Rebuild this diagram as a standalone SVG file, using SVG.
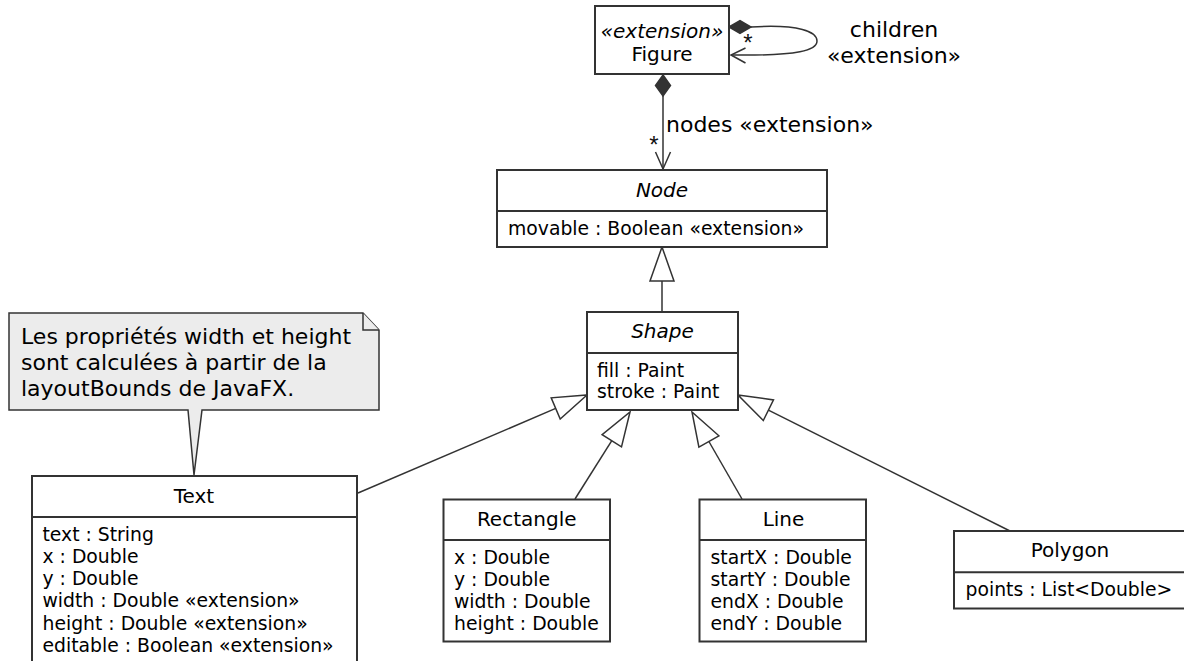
<svg xmlns="http://www.w3.org/2000/svg" width="1184" height="661" viewBox="0 0 1184 661">
  <style>
    text { font-family: "DejaVu Sans", "Liberation Sans", sans-serif; fill: #000; }
    .box { fill: #fff; stroke: #333; stroke-width: 2; }
    .sep { stroke: #333; stroke-width: 2; fill: none; }
    .title { font-size: 20px; text-anchor: middle; }
    .abstract { font-style: italic; }
    .attr { font-size: 18.8px; }
    .lbl { font-size: 22px; }
    .mult { font-size: 24px; text-anchor: middle; font-family: "Liberation Sans", sans-serif; fill: #111; }
    .edge { stroke: #333; stroke-width: 1.5; fill: none; }
    .diamond { fill: #333; stroke: #333; stroke-width: 1.5; }
    .gen { fill: #fff; stroke: #333; stroke-width: 1.5; }
    .note { fill: #ececec; stroke: #333; stroke-width: 1.5; }
  </style>

  <!-- Associations and generalizations -->
  <g id="connectors">
    <!-- Figure children self composition -->
    <path class="edge" d="M751,27 C800,24 817,32 817,41 C817,50 800,56 731,55"/>
    <polygon class="diamond" points="729,27 740,20.5 751,27 740,33.5"/>
    <polyline class="edge" points="745.5,48 731,55 745.5,63"/>
    <text class="mult" x="748" y="51">*</text>
    <text class="lbl" x="894" y="37" text-anchor="middle">children</text>
    <text class="lbl" x="894" y="63" text-anchor="middle">«extension»</text>

    <!-- Figure nodes composition -->
    <polygon class="diamond" points="663,75 670.5,85.5 663,96 655.5,85.5"/>
    <line class="edge" x1="663" y1="96" x2="663" y2="169"/>
    <polyline class="edge" points="655.5,152 663,169 670.5,152"/>
    <text class="mult" x="654" y="153">*</text>
    <text class="lbl" x="666" y="132">nodes «extension»</text>

    <!-- Shape extends Node -->
    <line class="edge" x1="662" y1="281" x2="662" y2="312"/>
    <polygon class="gen" points="662,247 674,281 650,281"/>

    <!-- Text extends Shape -->
    <line class="edge" x1="358" y1="493" x2="555.7" y2="408.4"/>
    <polygon class="gen" points="587,395 560.2,419 551.2,397.8"/>

    <!-- Rectangle extends Shape -->
    <line class="edge" x1="575" y1="499" x2="611.8" y2="440.7"/>
    <polygon class="gen" points="630,412 621.5,446.9 602.1,434.6"/>

    <!-- Line extends Shape -->
    <line class="edge" x1="742" y1="499" x2="708.9" y2="441.5"/>
    <polygon class="gen" points="692,412 718.9,435.8 698.9,447.2"/>

    <!-- Polygon extends Shape -->
    <line class="edge" x1="1010" y1="531" x2="768.4" y2="410.2"/>
    <polygon class="gen" points="738,395 773.5,399.9 763.3,420.5"/>
  </g>

  <g id="figure">
    <rect class="box" x="595" y="6" width="134" height="68"/>
    <text class="title abstract" x="662" y="38">«extension»</text>
    <text class="title" x="662" y="61">Figure</text>
  </g>

  <g id="node">
    <rect class="box" x="497" y="170" width="330" height="77"/>
    <line class="sep" x1="497" y1="211" x2="827" y2="211"/>
    <text class="title abstract" x="662" y="196.7">Node</text>
    <text class="attr" x="508" y="235">movable : Boolean «extension»</text>
  </g>

  <g id="shape">
    <rect class="box" x="587" y="312" width="151" height="98"/>
    <line class="sep" x1="587" y1="353" x2="738" y2="353"/>
    <text class="title abstract" x="662.5" y="338.4">Shape</text>
    <text class="attr" x="597" y="376.7">fill : Paint</text>
    <text class="attr" x="597" y="398.3">stroke : Paint</text>
  </g>

  <g id="note">
    <path class="note" d="M9,313 L363,313 L379,330 L379,410 L202,410 L194,475 L188,410 L9,410 Z"/>
    <path class="note" d="M363,313 L363,330 L379,330"/>
    <text class="lbl" x="21" y="344">Les propriétés width et height</text>
    <text class="lbl" x="21" y="370">sont calculées à partir de la</text>
    <text class="lbl" x="21" y="395.7">layoutBounds de JavaFX.</text>
  </g>

  <g id="text">
    <rect class="box" x="32" y="476" width="325" height="188"/>
    <line class="sep" x1="32" y1="517" x2="357" y2="517"/>
    <text class="title" x="194" y="502.7">Text</text>
    <text class="attr" x="42.5" y="540.7">text : String</text>
    <text class="attr" x="42.5" y="562.9">x : Double</text>
    <text class="attr" x="42.5" y="585.1">y : Double</text>
    <text class="attr" x="42.5" y="607.3">width : Double «extension»</text>
    <text class="attr" x="42.5" y="629.5">height : Double «extension»</text>
    <text class="attr" x="42.5" y="651.7">editable : Boolean «extension»</text>
  </g>

  <g id="rectangle">
    <rect class="box" x="443.5" y="499.5" width="166.5" height="142"/>
    <line class="sep" x1="443.5" y1="540" x2="610" y2="540"/>
    <text class="title" x="526.7" y="526">Rectangle</text>
    <text class="attr" x="454" y="564">x : Double</text>
    <text class="attr" x="454" y="586">y : Double</text>
    <text class="attr" x="454" y="608">width : Double</text>
    <text class="attr" x="454" y="630">height : Double</text>
  </g>

  <g id="line">
    <rect class="box" x="699.5" y="499.5" width="166.5" height="142"/>
    <line class="sep" x1="699.5" y1="540" x2="866" y2="540"/>
    <text class="title" x="783.5" y="526">Line</text>
    <text class="attr" x="710.5" y="564">startX : Double</text>
    <text class="attr" x="710.5" y="586">startY : Double</text>
    <text class="attr" x="710.5" y="608">endX : Double</text>
    <text class="attr" x="710.5" y="630">endY : Double</text>
  </g>

  <g id="polygon">
    <rect class="box" x="954" y="531" width="232" height="77.5"/>
    <line class="sep" x1="954" y1="572.3" x2="1186" y2="572.3"/>
    <text class="title" x="1070" y="557.4">Polygon</text>
    <text class="attr" x="965.5" y="596.3">points : List&lt;Double&gt;</text>
  </g>
</svg>
